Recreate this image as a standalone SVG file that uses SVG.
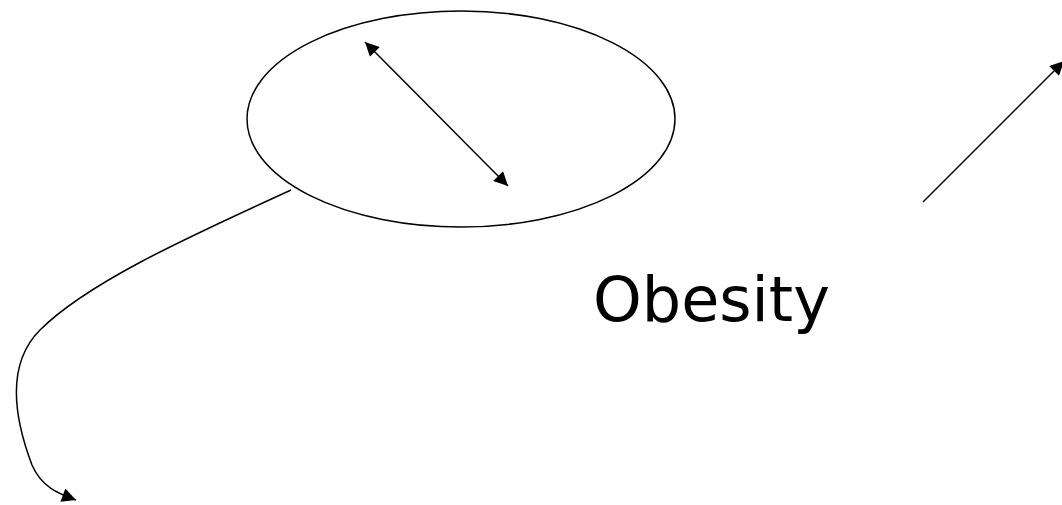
<svg xmlns="http://www.w3.org/2000/svg" width="1062" height="505" viewBox="0 0 1062 505">
<defs>
<style>
.ln{fill:none;stroke:#000;stroke-width:1.5}
.lbl{font-family:"DejaVu Sans",sans-serif;font-size:62px;fill:#000}
</style>
<marker id="ahb" viewBox="0 0 10 10" refX="10" refY="5" markerWidth="16" markerHeight="14" markerUnits="userSpaceOnUse" orient="auto-start-reverse">
<path d="M0,0 L10,5 L0,10 z" fill="#000"/>
</marker>
</defs>
<rect width="1062" height="505" fill="#fff"/>
<g id="node-ellipse">
<ellipse class="ln" cx="461" cy="119" rx="214" ry="108"/>
</g>
<g id="node-obesity">
<text class="lbl" x="593" y="321">Obesity</text>
</g>
<g id="connectors">
<line class="ln" x1="365" y1="42" x2="508" y2="186" marker-start="url(#ahb)" marker-end="url(#ahb)"/>
<path class="ln" d="M291,190 C200,232 90,280 40,330 C5,365 15,420 32,465 C42,488 60,494 76,500" marker-end="url(#ahb)"/>
<line class="ln" x1="923" y1="202" x2="1064" y2="61" marker-end="url(#ahb)"/>
</g>
</svg>
